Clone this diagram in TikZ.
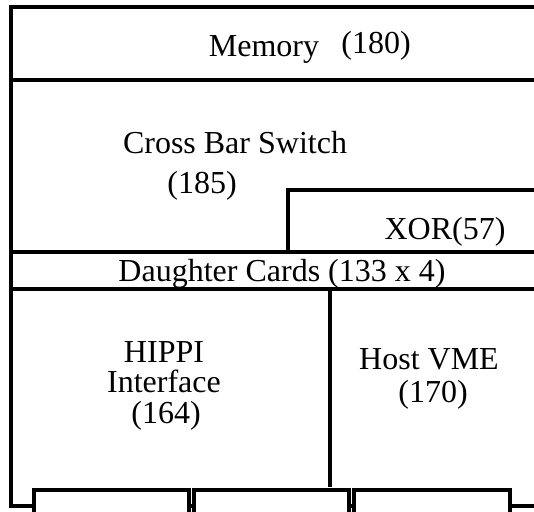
\documentclass[tikz,border=0pt]{standalone}
\usepackage{fontspec}
\setmainfont{Liberation Serif}
\definecolor{rahmen}{RGB}{0,0,0}

\begin{document}
\begin{tikzpicture}[x=0.5pt, y=-0.5pt, rahmen, line width=1.6pt,
    lbl/.style={anchor=base, inner sep=0pt, font=\fontsize{16}{19}\selectfont}]

    \useasboundingbox (0,0) rectangle (534,512);
    \clip (0,0) rectangle (534,512);

    % frame and rows
    \draw (560,7) -- (11,7) -- (11,506) -- (560,506);
    \draw (11,80) -- (560,80);
    \draw (11,252) -- (560,252);
    \draw (11,289) -- (560,289);
    \draw (288,252) -- (288,190) -- (560,190);
    \draw (330,289) -- (330,487);

    % ports on the bottom edge
    \foreach \xa/\xb in {34/189, 194/349, 354/510}
        \draw[fill=white] (\xa,530) -- (\xa,490) -- (\xb,490) -- (\xb,530);

    \node[lbl] (mem) at (264,57) {Memory};
    \node[lbl] (memnr) at (376,54) {(180)};

    \node[lbl] (xbar) at (235,154) {Cross Bar Switch};
    \node[lbl] (xbarnr) at (202,194) {(185)};

    \node[lbl] (xor) at (445,240) {XOR(57)};

    \node[lbl] (dc) at (282,282) {Daughter Cards (133 x 4)};

    \node[lbl] (hippi) at (164,363) {HIPPI};
    \node[lbl] (hippiif) at (164,393) {Interface};
    \node[lbl] (hippinr) at (166,423) {(164)};

    \node[lbl] (vme) at (429,369) {Host VME};
    \node[lbl] (vmenr) at (433,402) {(170)};

\end{tikzpicture}
\end{document}
